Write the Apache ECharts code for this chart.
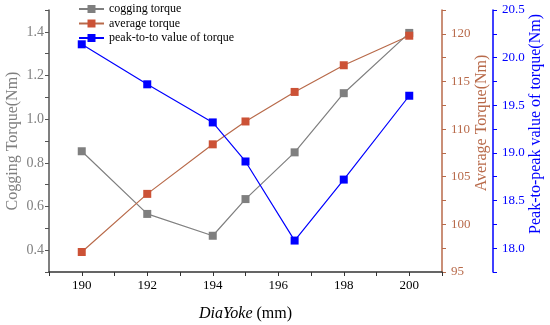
<!DOCTYPE html>
<html>
<head>
<meta charset="utf-8">
<script src="https://cdn.jsdelivr.net/npm/echarts@6/dist/echarts.min.js"></script>
<style>html,body{margin:0;padding:0;background:#fff}#c{width:550px;height:325px}</style>
</head>
<body>
<div id="c"></div>
<script>
var diaYoke = [190, 192, 194, 195, 196.5, 198, 200];
var coggingTorque = [0.853, 0.566, 0.466, 0.634, 0.848, 1.119, 1.395];
var averageTorque = [97.1, 103.2, 108.4, 110.8, 113.9, 116.7, 119.8];
var peakToPeak = [20.14, 19.72, 19.32, 18.91, 18.08, 18.72, 19.60];
var xTickLabels = [190, 192, 194, 196, 198, 200];
var leftTickLabels = [0.4, 0.6, 0.8, 1.0, 1.2, 1.4];
var avgTickLabels = [95, 100, 105, 110, 115, 120];
var p2pTickLabels = [18.0, 18.5, 19.0, 19.5, 20.0, 20.5];
var seriesNames = ['cogging torque', 'average torque', 'peak-to-to value of torque'];

function pair(xs, ys) { return xs.map(function (x, i) { return [x, ys[i]]; }); }
function near(list, v, eps) { return list.some(function (t) { return Math.abs(t - v) < eps; }); }

var font = 'Liberation Serif, Times New Roman, serif';
var gray = '#7f7f7f', red = '#b86a4a', redMark = '#cc5236', blue = '#0000ff';

var chart = echarts.init(document.getElementById('c'));
chart.setOption({
  animation: false,
  textStyle: { fontFamily: font },
  grid: { left: 49, right: 108, top: 10, bottom: 53, containLabel: false, outerBoundsMode: 'none' },
  legend: {
    orient: 'vertical', left: 78, top: 3, padding: 0, itemWidth: 25, itemHeight: 10, itemGap: 2.5,
    data: seriesNames,
    textStyle: { fontFamily: font, fontSize: 12, color: '#000' }
  },
  xAxis: {
    type: 'value', min: 189, max: 201, interval: 1,
    axisLine: { lineStyle: { color: '#333', width: 1.5 } },
    axisTick: { length: 4, lineStyle: { color: '#333' } },
    splitLine: { show: false },
    axisLabel: {
      margin: 7, fontSize: 13, color: '#000', fontFamily: font,
      formatter: function (v) { return near(xTickLabels, v, 1e-6) ? String(v) : ''; }
    },
    name: '{i|DiaYoke} (mm)', nameLocation: 'middle', nameGap: 34,
    nameTextStyle: {
      fontSize: 16, color: '#000', fontFamily: font,
      rich: { i: { fontStyle: 'italic', fontSize: 16, fontFamily: font } }
    }
  },
  yAxis: [
    {
      type: 'value', position: 'left', min: 0.3, max: 1.5, interval: 0.1,
      axisLine: { show: true, lineStyle: { color: '#555', width: 1.5 } },
      axisTick: { show: true, length: 4, lineStyle: { color: '#555' } },
      splitLine: { show: false },
      axisLabel: {
        margin: 5, fontSize: 14, color: gray, fontFamily: font,
        formatter: function (v) { return near(leftTickLabels, v, 1e-6) ? v.toFixed(1) : ''; }
      },
      name: 'Cogging Torque(Nm)', nameLocation: 'middle', nameGap: 28, nameRotate: 90, nameMoveOverlap: false,
      nameTextStyle: { fontSize: 16, color: gray, fontFamily: font }
    },
    {
      type: 'value', position: 'right', min: 95, max: 122.5, interval: 2.5,
      axisLine: { show: true, lineStyle: { color: red, width: 1.5 } },
      axisTick: { show: true, length: 4, lineStyle: { color: red } },
      splitLine: { show: false },
      axisLabel: {
        margin: 9, fontSize: 13, color: red, fontFamily: font,
        formatter: function (v) { return near(avgTickLabels, v, 1e-6) ? String(v) : ''; }
      },
      name: 'Average Torque(Nm)', nameLocation: 'middle', nameGap: 32, nameRotate: 90, nameMoveOverlap: false,
      nameTextStyle: { fontSize: 16, color: red, fontFamily: font, padding: [0, 0, 0, 36] }
    },
    {
      type: 'value', position: 'right', offset: 51, min: 17.75, max: 20.5, interval: 0.25,
      axisLine: { show: true, lineStyle: { color: blue, width: 1.5 } },
      axisTick: { show: true, length: 4, lineStyle: { color: blue } },
      splitLine: { show: false },
      axisLabel: {
        margin: 9, fontSize: 13, color: blue, fontFamily: font,
        formatter: function (v) { return near(p2pTickLabels, v, 1e-6) ? v.toFixed(1) : ''; }
      },
      name: 'Peak-to-peak value of torque(Nm)', nameLocation: 'middle', nameGap: 35, nameRotate: 90, nameMoveOverlap: false,
      nameTextStyle: { fontSize: 16, color: blue, fontFamily: font, padding: [0, 0, 0, 34] }
    }
  ],
  series: [
    {
      name: seriesNames[0], type: 'line', yAxisIndex: 0, data: pair(diaYoke, coggingTorque),
      symbol: 'rect', symbolSize: 8,
      lineStyle: { color: gray, width: 1.2 }, itemStyle: { color: gray }
    },
    {
      name: seriesNames[1], type: 'line', yAxisIndex: 1, data: pair(diaYoke, averageTorque),
      symbol: 'rect', symbolSize: 8,
      lineStyle: { color: red, width: 1.2 }, itemStyle: { color: redMark }
    },
    {
      name: seriesNames[2], type: 'line', yAxisIndex: 2, data: pair(diaYoke, peakToPeak),
      symbol: 'rect', symbolSize: 8,
      lineStyle: { color: blue, width: 1.2 }, itemStyle: { color: blue }
    }
  ]
});
</script>
</body>
</html>
